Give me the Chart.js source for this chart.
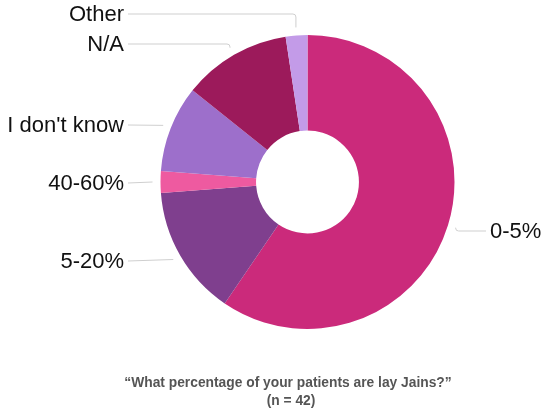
<!DOCTYPE html>
<html>
<head>
<meta charset="utf-8">
<script src="https://cdn.jsdelivr.net/npm/chart.js@4/dist/chart.umd.min.js"></script>
<style>
  body { margin: 0; background: #fff; }
  #grafica { width: 550px; height: 415px; }
</style>
</head>
<body>
<div id="grafica"><canvas id="myChart" width="550" height="415"></canvas></div>
<script>
// datos (n = 42), en orden horario desde arriba
var categorias = ['0-5%', '5-20%', '40-60%', "I don't know", 'N/A', 'Other'];
var respuestas = [25, 6, 1, 4, 5, 1];
var colores = ['#CB2A7B', '#7F3F8E', '#EE5AA0', '#9D6FCB', '#9C1A5B', '#C39BE8'];
var titulo = ['\u201CWhat percentage of your patients are lay Jains?\u201D', '(n = 42)'];

// y de cada etiqueta (solo layout)
var etiquetaY = [231, 261, 183, 125, 44, 14];

var etiquetas = {
    id: 'etiquetas',
    afterDraw: function (chart) {
        var ctx = chart.ctx;
        var arcos = chart.getDatasetMeta(0).data;
        ctx.save();
        ctx.font = '22px "Liberation Sans", Arial, sans-serif';
        ctx.textBaseline = 'middle';
        arcos.forEach(function (arco, i) {
            var medio = (arco.startAngle + arco.endAngle) / 2;
            var r = arco.outerRadius + 8;
            var ax = arco.x + Math.cos(medio) * r;
            var ay = arco.y + Math.sin(medio) * r;
            var ly = etiquetaY[i];
            var derecha = Math.cos(medio) > 0;
            var tx = derecha ? 490 : 124;

            // linea guia
            ctx.strokeStyle = '#cfcfcf';
            ctx.lineWidth = 1;
            ctx.beginPath();
            var inicio = derecha ? tx - 4 : tx + 4;
            ctx.moveTo(inicio, ly);
            if (Math.abs(ay - ly) > 3) {
                ctx.arcTo(ax, ly, ax, ay, 3);
            }
            ctx.lineTo(ax, ay);
            ctx.stroke();

            ctx.fillStyle = '#111';
            ctx.textAlign = derecha ? 'left' : 'right';
            ctx.fillText(categorias[i], tx, ly + 1);
        });

        // titulo abajo
        ctx.fillStyle = '#555';
        ctx.font = 'bold 13.8px "Liberation Sans", Arial, sans-serif';
        ctx.textAlign = 'center';
        ctx.fillText(titulo[0], 288, 383);
        ctx.fillText(titulo[1], 291, 401);
        ctx.restore();
    }
};

var ctx = document.getElementById('myChart').getContext('2d');
new Chart(ctx, {
    type: 'doughnut',
    data: {
        labels: categorias,
        datasets: [{
            data: respuestas,
            backgroundColor: colores,
            borderWidth: 0
        }]
    },
    options: {
        responsive: false,
        animation: false,
        cutout: '35%',
        layout: { padding: { left: 160, right: 95, top: 35, bottom: 86 } },
        plugins: {
            legend: { display: false },
            tooltip: { enabled: false }
        }
    },
    plugins: [etiquetas]
});
</script>
</body>
</html>
